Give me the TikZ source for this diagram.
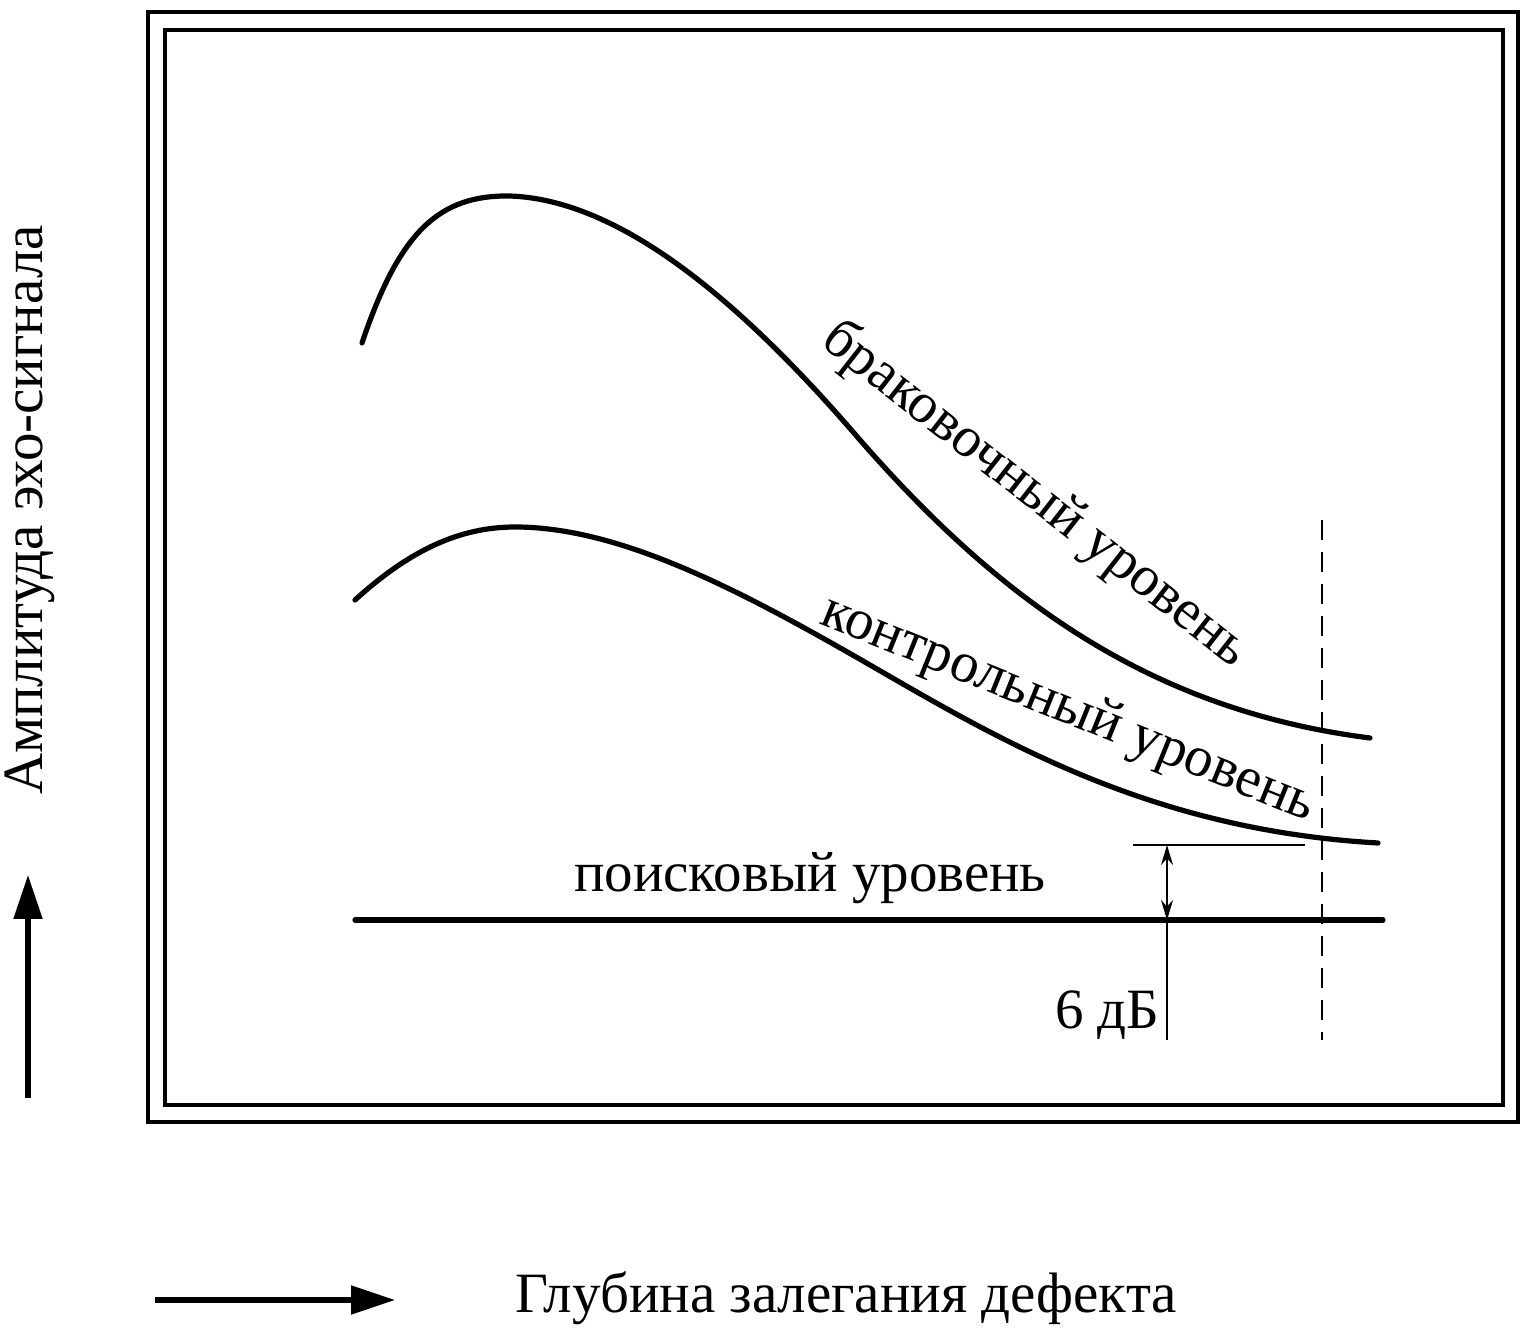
\documentclass[tikz,border=0pt]{standalone}
\usepackage{fontspec}
\setmainfont{Liberation Serif}
\usetikzlibrary{arrows.meta}
\begin{document}
\begin{tikzpicture}[x=0.5pt,y=-0.5pt,
  curve/.style={line width=2.6pt,line cap=round},
  lbl/.style={font=\fontsize{28.5}{31}\selectfont,inner sep=0pt},
  thin/.style={line width=0.8pt}]
\useasboundingbox (0,0) rectangle (1533,1336);
\draw[line width=2pt] (148,12) rectangle (1518,1122);
\draw[line width=2pt] (165,30) rectangle (1503,1105);
\draw[curve] (362,343) .. controls (400,230) and (440,195) .. (510,196)
  .. controls (620,200) and (740,300) .. (860,440)
  .. controls (1000,600) and (1150,710) .. (1370,738);
\draw[curve] (355,600) .. controls (410,550) and (460,527) .. (515,527)
  .. controls (620,527) and (740,590) .. (870,665)
  .. controls (1000,740) and (1150,830) .. (1378,843);
\draw[curve] (355,920) -- (1383,920);
\coordinate (dt) at (1322,520); \coordinate (db) at (1322,1040);
\draw[thin,dash pattern=on 10pt off 6pt] (dt) -- (db);
\coordinate (ha) at (1133,845); \coordinate (hb) at (1305,845);
\draw[thin] (ha) -- (hb);
\coordinate (va) at (1167,845); \coordinate (vb) at (1167,1040); \coordinate (vm) at (1167,920);
\draw[thin] (vm) -- (vb);
\draw[thin,{Stealth[length=10pt,width=6pt]}-{Stealth[length=10pt,width=6pt]}] (va) -- (vm);
\node[lbl,anchor=east] (db6) at (1160,1015) {6 дБ};
\node[lbl] (p) at (810,878) {поисковый уровень};
\node[lbl,rotate=-38] (b) at (1035,495) {браковочный уровень};
\node[lbl,rotate=-22] (k) at (1068,710) {контрольный уровень};
\coordinate (a1) at (28,1098); \coordinate (a2) at (28,875);
\draw[line width=2.6pt,-{Triangle[length=22pt,width=14pt]}] (a1) -- (a2);
\node[lbl,rotate=90] (ya) at (30,510) {Амплитуда эхо-сигнала};
\coordinate (b1) at (155,1300); \coordinate (b2) at (395,1300);
\draw[line width=2.6pt,-{Triangle[length=22pt,width=14pt]}] (b1) -- (b2);
\node[lbl] (xa) at (846,1298) {Глубина залегания дефекта};
\end{tikzpicture}
\end{document}
